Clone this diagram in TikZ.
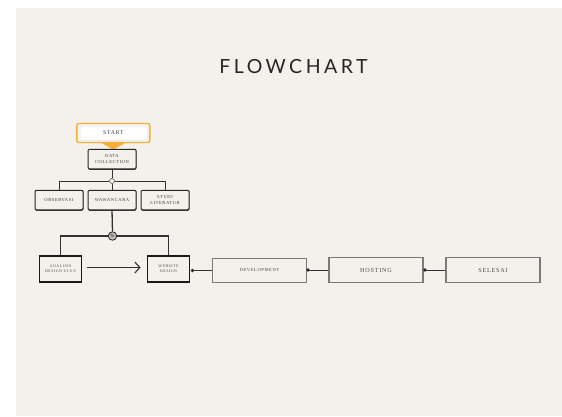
\documentclass[tikz,border=0pt]{standalone}
\usepackage{fontspec}
\setmainfont{Liberation Serif}
\newfontfamily\titlefont[LetterSpace=18]{Lato}
\newfontfamily\boxfont[LetterSpace=12]{Liberation Serif}
\usetikzlibrary{shadows,arrows.meta}
\definecolor{panel}{HTML}{F4F1EC}
\definecolor{orng}{HTML}{F7AE3A}
\definecolor{gborder}{HTML}{7A7A7A}
\tikzset{
  sketch/.style={draw=black!85, line width=1pt, fill=panel, rounded corners=1.2pt,
    drop shadow={shadow xshift=0.3pt, shadow yshift=-1.1pt, opacity=0.75, fill=black},
    align=center, inner sep=0pt, font=\boxfont\fontsize{4.6}{5.6}\selectfont, text=black!75},
  smallbox/.style={sketch, minimum width=48pt, minimum height=19.5pt},
  heavybox/.style={draw=black!90, line width=1.8pt, fill=panel, align=center, inner sep=0pt,
    minimum width=42pt, minimum height=26pt, font=\boxfont\fontsize{4}{5.2}\selectfont, text=black!70},
  graybox/.style={draw=gborder, line width=1.1pt, fill=panel, inner sep=0pt,
    minimum width=94pt, minimum height=24.5pt, text=black!70},
  conn/.style={draw=black!80, line width=1.3pt},
  gconn/.style={draw=black!80, line width=0.9pt},
  joindot/.style={circle, fill=black!85, draw=none, inner sep=0pt, minimum size=3.6pt},
}
\begin{document}
\begin{tikzpicture}[x=1pt,y=-1pt]
\useasboundingbox (0,0) rectangle (562,416);
\fill[panel] (16,8) rectangle (562,416);
% title
\node[font=\titlefont\fontsize{19.5}{20}\selectfont, text=black!85] (title) at (293.5,67) {FLOWCHART};
% start
\node[draw=orng, line width=1.4pt, fill=orng!10, rounded corners=2pt, minimum width=73pt, minimum height=19pt,
      inner sep=0pt] (start) at (113.3,133) {};
\filldraw[fill=white, draw=black!12, line width=0.5pt, rounded corners=2pt] (80,126) rectangle (147.5,140.5);
\node[font=\boxfont\fontsize{5.8}{6}\selectfont, text=black!75] (starttxt) at (start.center) {START};
\fill[orng] ([xshift=-11.5pt]start.south) -- ([xshift=11.5pt]start.south) -- ([yshift=-6.5pt]start.south) -- cycle;
% data collection
\node[smallbox] (data) at (112,159) {DATA\\COLLECTION};
% second level
\node[smallbox] (obs) at (59,200) {OBSERVASI};
\node[smallbox] (waw) at (112,200) {WAWANCARA};
\node[smallbox] (stu) at (165,200) {STUDI\\LITERATUR};
\node[circle, draw=black!60, fill=panel, line width=0.7pt, inner sep=0pt, minimum size=5pt] (c1) at (112,181) {};
\draw[gconn] (data.south) -- (c1.north);
\draw[gconn] (c1.west) -| (obs.north);
\draw[gconn] (c1.east) -| (stu.north);
\draw[gconn] (c1.south) -- (waw.north);
% third level
\node[heavybox] (ana) at (60.5,269) {ANALISIS\\DESIGN UI UX};
\node[heavybox] (web) at (168.5,269) {WEBSITE\\DESIGN};
\node[circle, draw=black!85, fill=black!25, line width=0.8pt, inner sep=0pt, minimum size=8.5pt,
      font=\fontsize{5}{5}\selectfont] (c2) at (112.5,236) {\%};
\draw[conn] (waw.south) -- (c2.north);
\draw[conn] (c2.west) -| (ana.north);
\draw[conn] (c2.east) -| (web.north);
\draw[conn, -{Straight Barb[length=5pt,width=11pt,line width=1.1pt]}] ([xshift=5pt,yshift=1.5pt]ana.east) -- ([xshift=-6pt,yshift=1.5pt]web.east -| web.west);
% bottom row
\node[graybox, font=\boxfont\fontsize{4.6}{5}\selectfont] (dev) at (259.5,270.5) {DEVELOPMENT};
\node[graybox, font=\boxfont\fontsize{6.2}{7}\selectfont] (host) at (376,270) {HOSTING};
\node[graybox, font=\boxfont\fontsize{6.2}{7}\selectfont] (sel) at (493,270) {SELESAI};
\node[joindot] (d1) at (192.5,270.5) {};
\node[joindot] (d2) at (308,270) {};
\node[joindot] (d3) at (425,270) {};
\draw[gconn] (d1.center) -- (dev.west);
\draw[gconn] (d2.center) -- (host.west);
\draw[gconn] (d3.center) -- (sel.west);
\end{tikzpicture}
\end{document}
